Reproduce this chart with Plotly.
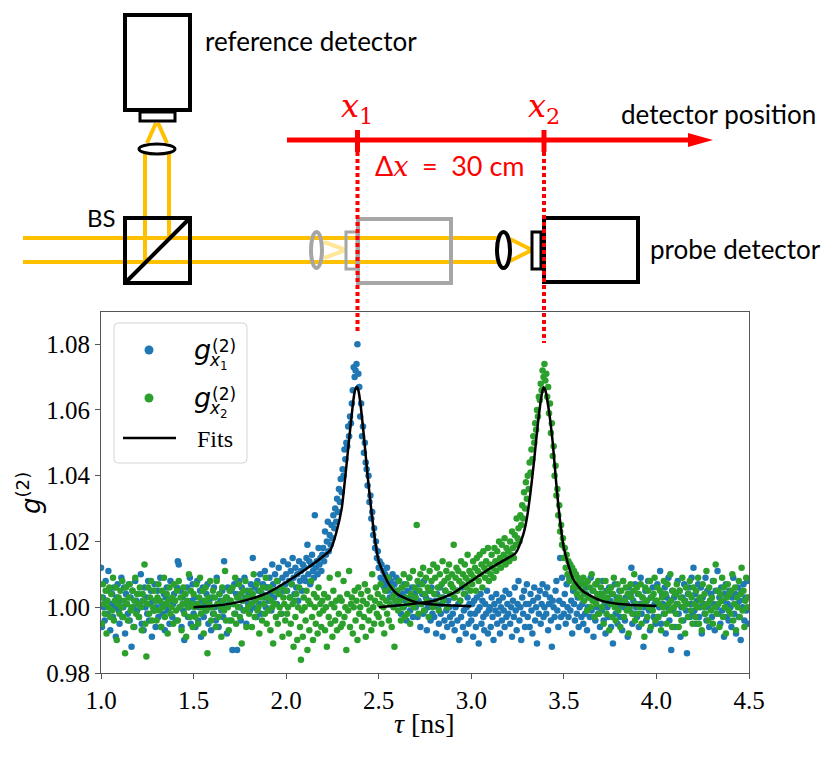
import plotly.graph_objects as go

W, H = 830, 760
# the html page puts the figure 8 px in from the top-left corner
OFF = 8

# time axis of the correlation histograms (ns)
tau_start = 1.0
tau_step = 0.005

# (g2 - 1) in units of 1e-3, 20 bins per row (0.1 ns)
g2_x1_dev = [
    12, -6, 3, 0, -4, 8, 2, -2, 11, 5, -7, 1, 4, -3, 6, 0, -9, 3, 7, -1,
    -5, 2, 9, -3, 0, 6, -8, 4, 1, -2, 7, -4, 3, -12, 5, 0, -6, 8, 2, -1,
    4, -3, 1, 10, -5, 2, -7, 6, 0, 3, -2, 8, -4, 1, 5, -9, 2, -1, 7, -6,
    0, 5, -3, 2, 9, -6, 1, -2, 4, -7, 3, 6, -1, 0, -5, 8, 2, -3, 1, 4,
    2, -4, 6, 14, 13, 0, 5, -6, 3, -1, -10, 4, 1, 6, -3, 0, 9, -5, 2, 7,
    -2, 3, -6, 1, 8, -4, 0, 5, -9, 2, 6, -3, 1, -1, 4, 7, -5, 2, 0, -7,
    3, -2, 6, 0, -4, 9, 1, -6, 4, 2, -1, 5, -3, 14, 0, 3, -8, 6, 1, -4,
    2, 5, -13, 1, 7, -2, 4, -13, 3, 8, 0, -4, 6, 2, -1, 9, 3, -5, 5, 1,
    4, -1, 7, 3, 15, 0, 6, 2, -3, 8, 5, 1, 10, -2, 4, 7, 3, 11, 0, 6,
    6, 2, 9, 4, -1, 13, 7, 3, 10, 5, 1, 8, 12, 4, 6, -2, 9, 14, 5, 7,
    10, 5, 13, 8, 3, 11, 7, 15, 9, 4, 12, 6, 10, 2, 14, 8, 11, 5, 13, 9,
    12, 8, 15, 19, 10, 14, 7, 13, 16, 11, 9, 28, 12, 14, 10, 18, 13, 15, 11, 16,
    18, 14, 23, 16, 20, 26, 17, 22, 19, 25, 21, 28, 24, 30, 26, 33, 29, 36, 32, 39,
    35, 42, 40, 48, 45, 50, 49, 55, 52, 58, 56, 62, 66, 73, 70, 72, 74, 80, 71, 67,
    58, 62, 52, 55, 47, 50, 44, 42, 37, 40, 32, 34, 27, 29, 22, 24, 18, 20, 15, 17,
    12, 14, 9, 13, 8, 11, 6, 10, 7, 12, 5, 9, 3, 8, 6, 10, 4, 7, 2, 9,
    5, 1, 8, 3, -2, 6, 4, 0, 7, 2, -4, 5, 1, 9, -1, 3, 6, -3, 2, 4,
    0, 5, -3, 2, 7, -6, 1, 4, -2, 8, -1, 3, -7, 0, 5, 2, -4, 6, -2, 1,
    -3, 2, -8, 4, 0, -5, 6, -2, 1, -9, 3, -4, 5, -1, -6, 2, 0, -3, 7, -5,
    -2, 3, -7, 0, 5, -4, 1, -10, 2, -3, 6, -6, -1, 4, -8, 0, 3, -5, 1, -2,
    -4, 1, -9, 2, -2, -6, 3, -1, -11, 0, 4, -5, 2, -3, -7, 1, -2, 5, -8, -1,
    0, -6, 3, -3, -10, 1, -1, 4, -5, -2, 2, -8, 0, -4, 3, -1, -6, 5, -3, 1,
    -2, 4, -5, 0, -9, 2, -3, 6, -1, -7, 1, 8, -4, 0, -10, 3, -2, 5, -6, 1,
    7, -3, 1, -6, 4, -1, -8, 2, 6, -4, 0, -11, 3, -2, 5, -5, 1, 7, -3, 0,
    4, -2, 6, -7, 1, 3, -4, -12, 2, 0, -3, 5, 8, -1, -6, 2, 15, -3, 9, 1,
    -2, 4, -5, 7, 0, -3, 9, -1, 2, -8, 5, 1, -4, 6, -2, 3, -6, 0, 8, -3,
    1, -5, 4, -2, 6, -7, 0, 3, -3, 9, -1, 5, -9, 2, -4, 7, 0, -2, 4, -6,
    3, -1, 8, -4, 1, -8, 5, 0, -3, 6, 2, -6, 4, -11, 1, 7, -2, 3, -5, 0,
    5, -3, 2, -7, 8, 0, -4, 3, 1, -9, 6, -1, 4, 12, -5, 2, -2, 7, 0, -3,
    4, -6, 1, 9, -2, 3, -12, 0, 5, -4, 2, 8, -1, -7, 3, 0, 6, -3, 1, -5,
    2, 7, -3, 0, 11, -5, 4, 1, -2, 6, -8, 3, 0, 9, -4, 2, -13, 5, -1, 3,
    -6, 4, 1, 8, -2, 5, -9, 0, 3, -4, 7, 2, -1, -14, 4, 6, -3, 1, 9, -2,
    12, -1, 4, -5, 2, 7, -3, 0, 6, -8, 3, 1, -2, 9, -4, 5, 0, -6, 2, 4,
    -3, 8, 1, -7, 5, 0, 11, -2, 3, -5, 6, -1, 2, -9, 4, 7, -3, 1, -4, 5,
    0, -6, 3, 9, -2, 4, -8, 1, 6, -3, 2, -10, 5, 0, 7, -4, 3, -1, 8, -5,
]

g2_x2_dev = [
    3, -5, 7, 1, -2, 5, -8, 2, 0, 6, -3, 4, -1, 9, -4, 2, 6, -10, 1, 3,
    -2, 5, 0, 8, -3, 2, -14, 6, 1, -4, 3, 7, -1, 0, 5, -6, 2, 9, -2, 4,
    1, -3, 6, 0, -7, 4, 2, 13, -5, -15, 1, 6, -2, 3, 8, -4, 0, 5, -1, 2,
    -4, 3, 7, -1, 2, -6, 5, 0, 9, -3, 1, 4, -8, 2, 6, -2, 0, 3, -5, 7,
    2, -1, 5, -4, 8, 0, 3, -7, 1, 6, -2, 4, -9, 2, 0, 10, -3, 5, 1, -6,
    4, 0, -3, 7, 1, -5, 3, 9, -2, 0, 5, -8, 2, 6, -1, -14, 3, 1, 8, -4,
    0, 5, -2, 3, -6, 8, 1, -3, 4, 0, -9, 6, 2, -1, 11, -4, 3, 0, -7, 5,
    2, -4, 6, 1, -2, 9, -5, 3, 0, 7, -3, 4, -11, 2, 5, -1, 8, -6, 3, 0,
    -2, 5, 1, -6, 4, 10, -3, 2, 7, -1, 0, -8, 5, 3, -4, 6, 1, -2, 9, -5,
    3, -1, 6, -7, 2, 0, -11, 5, 1, -3, 8, -5, 4, 0, -2, 6, -9, 3, 1, -4,
    5, -2, 0, -8, 3, -5, 7, 1, -12, 2, -3, 4, -10, 0, 6, -6, -16, -1, -9, 3,
    0, -4, 5, -13, 2, -7, 1, 8, -3, -10, 4, 0, -5, 3, -8, 6, -2, 1, -6, 2,
    -1, 4, -7, 0, -12, 3, -3, 9, -5, 1, -9, 5, 0, -4, 2, -7, 10, -2, 3, -6,
    2, -5, 8, -3, 0, -13, 4, -1, 11, -6, 1, 3, -8, 0, 5, -4, 2, -10, 6, -2,
    0, 4, -6, 2, -3, 7, -9, 1, 5, -4, -1, 3, -7, 10, 0, -5, 2, 6, -2, 4,
    -3, 1, 7, -5, 3, 0, -8, 5, 2, -2, 9, -4, 1, 6, -6, 3, 0, -12, 4, 2,
    5, -1, 8, 2, -4, 6, 0, 10, -3, 3, 7, -2, 1, 9, -5, 4, 2, 11, 0, 6,
    3, 25, 8, -2, 5, 10, 1, 7, 12, -1, 4, 9, 2, 6, -3, 11, 5, 8, 0, 13,
    4, 9, 1, 12, 6, -1, 10, 3, 7, 14, 2, 8, 5, 11, 0, 9, 13, 4, 7, 10,
    6, 19, 3, 9, 12, 5, 11, 8, 2, 14, 7, 10, 4, 13, 9, 6, 16, 8, 11, 5,
    10, 7, 14, 9, 12, 5, 15, 11, 8, 16, 10, 13, 6, 17, 12, 9, 14, 11, 18, 8,
    13, 10, 16, 12, 9, 18, 14, 11, 17, 13, 20, 15, 12, 19, 14, 16, 21, 13, 18, 15,
    17, 14, 20, 16, 23, 18, 15, 22, 19, 27, 21, 24, 20, 28, 25, 31, 27, 35, 30, 38,
    33, 40, 36, 44, 41, 48, 45, 52, 50, 56, 54, 60, 58, 64, 63, 68, 66, 72, 70, 74,
    69, 71, 64, 67, 59, 62, 53, 56, 46, 49, 40, 43, 34, 36, 28, 31, 23, 25, 19, 21,
    15, 18, 12, 16, 10, 14, 8, 13, 9, 12, 6, 11, 7, 10, 4, 9, 6, 8, 3, 7,
    5, 9, 2, 7, 4, -1, 8, 3, 6, 0, 10, 2, 5, -3, 7, 1, 4, 8, -2, 3,
    6, 0, 4, -5, 2, 8, -2, 3, 5, -7, 1, 6, -3, 4, 9, 0, -4, 2, 7, -1,
    3, -6, 5, 1, 8, -3, 2, 6, -1, 4, -8, 0, 7, 3, -2, 5, 10, -4, 1, 6,
    -2, 4, 0, 7, -5, 3, 1, -9, 6, 2, -3, 5, 0, 8, -6, 3, -1, 4, 9, -4,
    2, 6, -3, 1, 5, -7, 3, 0, 8, -2, 4, -5, 7, 1, -1, 10, 2, -6, 5, 0,
    4, -2, 7, 1, -6, 5, 3, -4, 9, 0, 2, -8, 6, 1, -3, 4, 8, -1, 3, -5,
    6, 1, -3, 5, 0, 9, -5, 3, 2, -7, 7, 0, 4, -2, 11, 1, -4, 6, 2, -1,
    3, -5, 8, 0, 13, -2, 5, 1, -6, 4, 2, 9, -3, 6, 0, -8, 3, 7, -1, 4,
    -2, 5, 10, -4, 1, 6, -7, 3, 0, 8, -3, 4, 12, -1, 5, -6, 2, 9, 0, 3,
]

fit1_tau = [1.50, 1.60, 1.70, 1.80, 1.90, 2.00, 2.10, 2.20, 2.24, 2.27, 2.30,
            2.32, 2.34, 2.36, 2.37, 2.38, 2.39, 2.40, 2.42, 2.44, 2.46, 2.48,
            2.50, 2.55, 2.60, 2.70, 2.80, 2.90, 3.00]
fit1_g2 = [1.0000, 1.0004, 1.0011, 1.0024, 1.0044, 1.0076, 1.0113, 1.0155,
           1.0175, 1.0225, 1.0300, 1.0400, 1.0510, 1.0615, 1.0655, 1.0671,
           1.0660, 1.0625, 1.0520, 1.0400, 1.0295, 1.0205, 1.0140, 1.0075,
           1.0040, 1.0015, 1.0008, 1.0005, 1.0003]

fit2_tau = [2.50, 2.60, 2.70, 2.80, 2.90, 3.00, 3.10, 3.20, 3.24, 3.28, 3.30,
            3.32, 3.34, 3.36, 3.38, 3.39, 3.40, 3.42, 3.44, 3.46, 3.48, 3.50,
            3.55, 3.60, 3.70, 3.80, 3.90, 4.00]
fit2_g2 = [1.0000, 1.0005, 1.0011, 1.0020, 1.0042, 1.0080, 1.0118, 1.0150,
           1.0165, 1.0220, 1.0270, 1.0350, 1.0450, 1.0560, 1.0645, 1.0669,
           1.0660, 1.0595, 1.0500, 1.0370, 1.0260, 1.0180, 1.0086, 1.0050,
           1.0020, 1.0010, 1.0006, 1.0004]

tau_ticks = [1.0, 1.5, 2.0, 2.5, 3.0, 3.5, 4.0, 4.5]
g2_ticks = [0.98, 1.00, 1.02, 1.04, 1.06, 1.08]

assert len(g2_x1_dev) == len(g2_x2_dev) == 700

BLUE = "#1f77b4"
GREEN = "#2ca02c"
BEAM = "#FFC000"
BEAM_FAINT = "#FFE699"
GREY = "#A6A6A6"
RED = "#FF0000"
SERIF = "Liberation Serif"
SANS = "Lato"
MATH = "DejaVu Sans"

# plot area, in screen pixels
PL, PR, PT, PB = 101, 749, 312, 673


def px(x):
    return (x - OFF) / W


def py(y):
    return 1 - (y - OFF) / H


def seg(x0, y0, x1, y1, color, width, dash=None):
    return dict(type="line", xref="paper", yref="paper",
                x0=px(x0), y0=py(y0), x1=px(x1), y1=py(y1),
                line=dict(color=color, width=width, dash=dash))


def box(x0, y0, x1, y1, color, width, fill=None):
    return dict(type="rect", xref="paper", yref="paper",
                x0=px(x0), y0=py(y0), x1=px(x1), y1=py(y1),
                line=dict(color=color, width=width), fillcolor=fill)


def oval(x0, y0, x1, y1, color, width, fill="white"):
    return dict(type="circle", xref="paper", yref="paper",
                x0=px(x0), y0=py(y0), x1=px(x1), y1=py(y1),
                line=dict(color=color, width=width), fillcolor=fill)


def path(points, color, fill=None, width=0):
    d = "M " + " L ".join("{:.5f},{:.5f}".format(px(x), py(y)) for x, y in points)
    return dict(type="path", xref="paper", yref="paper", path=d + " Z",
                line=dict(color=color, width=width), fillcolor=fill)


def text(s, x, y, size, family=SANS, color="black", xanchor="left",
         yanchor="middle", angle=0):
    return dict(text=s, x=px(x), y=py(y), xref="paper", yref="paper",
                showarrow=False, xanchor=xanchor, yanchor=yanchor,
                textangle=angle, font=dict(family=family, size=size, color=color))


def legend_frame(x0, y0, x1, y1, r):
    a, c = px(x0 + r), px(x1 - r)
    b, h = py(y0), py(y1)
    f, g = py(y0 + r), py(y1 - r)
    e, i = px(x1), px(x0)
    d = ("M {a},{b} L {c},{b} Q {e},{b} {e},{f} L {e},{g} Q {e},{h} {c},{h} "
         "L {a},{h} Q {i},{h} {i},{g} L {i},{f} Q {i},{b} {a},{b} Z").format(
        a=a, b=b, c=c, e=e, f=f, g=g, h=h, i=i)
    return dict(type="path", xref="paper", yref="paper", path=d,
                line=dict(color="#d5d5d5", width=1),
                fillcolor="rgba(255,255,255,0.8)")


shapes = [
    # light paths
    seg(23, 238, 497, 238, BEAM, 4),
    seg(23, 262, 497, 262, BEAM, 4),
    seg(145, 262, 145, 154, BEAM, 4),
    seg(169, 238, 169, 154, BEAM, 4),
    seg(147, 143, 156, 123, BEAM, 4),
    seg(167, 143, 158, 123, BEAM, 4),
    seg(324, 242, 346, 250, BEAM_FAINT, 4),
    seg(324, 258, 346, 250, BEAM_FAINT, 4),
    seg(510, 239, 532, 250, BEAM, 4),
    seg(510, 261, 532, 250, BEAM, 4),
    # old detector position (grey)
    oval(311, 232, 322, 268, GREY, 4, fill=None),
    box(346, 232, 357, 269, GREY, 3),
    box(358, 219, 451, 283, GREY, 4),
    # reference arm
    box(125, 15, 190, 110, "black", 4),
    box(140, 112, 175, 121, "black", 3),
    oval(139, 144, 175, 154, "black", 3),
    box(125, 218, 190, 283, "black", 4),
    seg(125, 283, 190, 218, "black", 4),
    # probe arm
    oval(497, 232, 510, 268, "black", 4),
    box(532, 232, 541, 269, "black", 3),
    box(544, 218, 638, 282, "black", 4),
    # detector position axis
    seg(287, 140, 692, 140, RED, 5),
    path([(688, 133), (713, 140), (688, 147)], RED, fill=RED),
    seg(357.5, 130, 357.5, 152, RED, 5),
    seg(544, 130, 544, 152, RED, 5),
    seg(357.5, 152, 357.5, 334, RED, 4, dash="4px,3px"),
    seg(544, 152, 544, 343, RED, 4, dash="4px,3px"),
    # legend frame and handles
    legend_frame(114, 323, 247, 463, 4),
    oval(144.5, 345.5, 153.5, 354.5, BLUE, 0, fill=BLUE),
    oval(144.5, 393.5, 153.5, 402.5, GREEN, 0, fill=GREEN),
    seg(123, 438, 176, 438, "black", 2.5),
]

SP = "\u2002"
annotations = [
    text("reference detector", 203, 41, 26),
    text("detector position", 619, 114, 26),
    text("probe detector", 648, 249, 26),
    text("BS", 118, 217, 24, xanchor="right"),
    text("<i>x</i><sub>1</sub>", 357, 108, 32, family="DejaVu Serif", color=RED,
         xanchor="center"),
    text("<i>x</i><sub>2</sub>", 544, 108, 32, family="DejaVu Serif", color=RED,
         xanchor="center"),
    text("Δ<span style='font-family:DejaVu Serif'><i>x</i></span>" + SP + "=" + SP
         + "30 cm", 450, 165, 27, color=RED, xanchor="center"),
    # legend labels
    text("<i>g</i>", 192, 349, 27, family=MATH),
    text("(2)", 210, 346, 17, family=MATH),
    text("<i>x</i><sub>1</sub>", 207, 361, 17, family=MATH),
    text("<i>g</i>", 192, 397, 27, family=MATH),
    text("(2)", 210, 394, 17, family=MATH),
    text("<i>x</i><sub>2</sub>", 207, 409, 17, family=MATH),
    text("Fits", 195, 439, 24, family=SERIF),
    # axis titles
    text("<i>τ</i> [ns]", 425, 723, 28, family=SERIF, xanchor="center"),
    text("<i>g</i><sup>(2)</sup>", 29, 493, 26, family=MATH, xanchor="center",
         angle=-90),
]

fig = go.Figure()
fig.add_trace(go.Scatter(
    x0=tau_start, dx=tau_step, y=[1 + v / 1000 for v in g2_x1_dev],
    mode="markers", marker=dict(color=BLUE, size=6.5), name="g_x1"))
fig.add_trace(go.Scatter(
    x0=tau_start, dx=tau_step, y=[1 + v / 1000 for v in g2_x2_dev],
    mode="markers", marker=dict(color=GREEN, size=6.5), name="g_x2"))
for t, g in ((fit1_tau, fit1_g2), (fit2_tau, fit2_g2)):
    fig.add_trace(go.Scatter(
        x=t, y=g, mode="lines", name="Fits",
        line=dict(color="black", width=2.5, shape="spline", smoothing=0.6)))

axis_style = dict(showgrid=False, zeroline=False, showline=True, mirror=True,
                  linecolor="#555555", linewidth=1.2, ticks="outside", ticklen=5,
                  tickwidth=1.2, tickcolor="#555555", automargin=False,
                  tickfont=dict(family=SERIF, size=25, color="black"))

fig.update_layout(
    width=W, height=H, autosize=False,
    margin=dict(l=0, r=0, t=0, b=0),
    paper_bgcolor="white", plot_bgcolor="white",
    showlegend=False,
    xaxis=dict(domain=[px(PL), px(PR)], range=[1.0, 4.5], tickvals=tau_ticks,
               tickformat=".1f", **axis_style),
    yaxis=dict(domain=[py(PB), py(PT)], range=[0.98, 1.0898],
               tickvals=g2_ticks, tickformat=".2f", **axis_style),
    shapes=shapes,
    annotations=annotations,
)

fig.write_html("out.html")
